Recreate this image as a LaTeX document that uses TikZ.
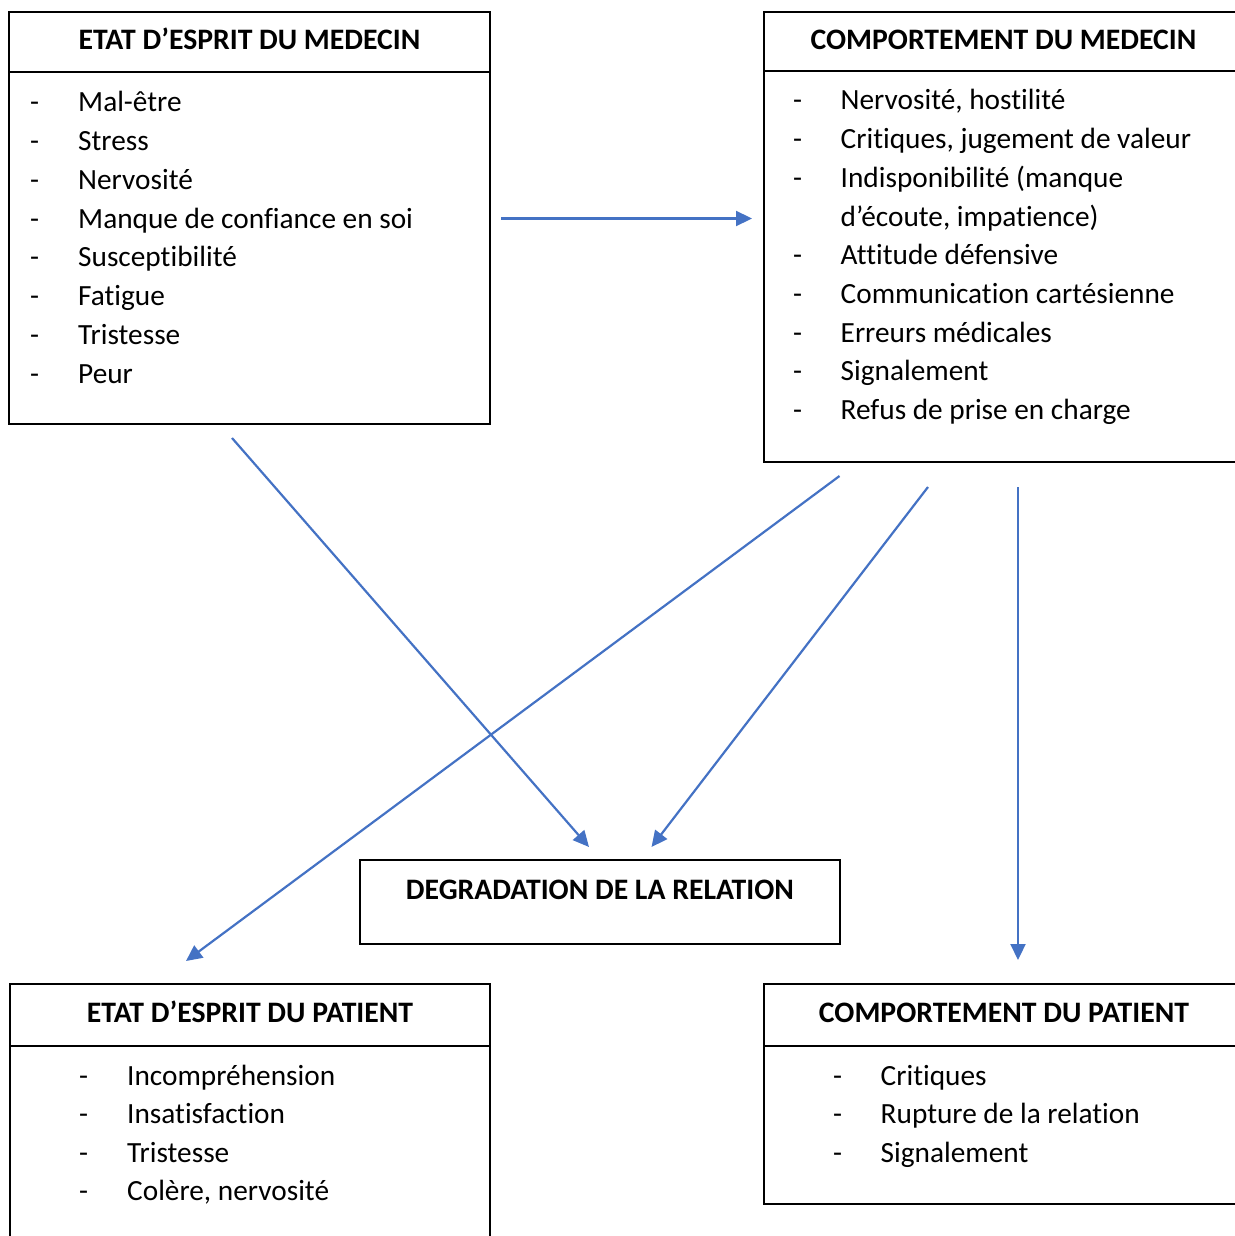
\documentclass[tikz,border=0pt]{standalone}
\usepackage{fontspec}
\setmainfont{Carlito}[Ligatures={NoCommon}]
\usetikzlibrary{arrows.meta}
\definecolor{arrowblue}{HTML}{4472C4}
\begin{document}
\begin{tikzpicture}[x=1pt,y=-1pt,
  box/.style={draw=black,line width=1.6pt,rectangle,inner sep=0pt,outer sep=0pt,anchor=north west},
  divider/.style={draw=black,line width=1.6pt},
  head/.style={font=\fontsize{29.7}{38.7}\selectfont\bfseries,inner sep=0pt,anchor=base},
  item/.style={font=\fontsize{29.3}{38.7}\selectfont,inner sep=0pt,anchor=base west},
  link/.style={draw=arrowblue,line width=2.2pt,-{Triangle[length=16pt,width=15pt]}}]
\useasboundingbox (0,0) rectangle (1234,1236);
% boxes
\node[box,minimum width=481pt,minimum height=412pt] (A) at (9,12) {};
\node[box,minimum width=480pt,minimum height=450pt] (B) at (764,12) {};
\node[box,minimum width=480pt,minimum height=84pt] (C) at (360,860) {};
\node[box,minimum width=480pt,minimum height=270pt] (D) at (10,984) {};
\node[box,minimum width=480pt,minimum height=220pt] (E) at (764,984) {};
% dividers
\coordinate (A1) at (9,72);   \coordinate (A2) at (490,72);
\coordinate (B1) at (764,71); \coordinate (B2) at (1244,71);
\coordinate (D1) at (10,1046); \coordinate (D2) at (490,1046);
\coordinate (E1) at (764,1046); \coordinate (E2) at (1244,1046);
\draw[divider] (A1) -- (A2);
\draw[divider] (B1) -- (B2);
\draw[divider] (D1) -- (D2);
\draw[divider] (E1) -- (E2);
% headers
\node[head] (hA) at (249.5,50) {ETAT D’ESPRIT DU MEDECIN};
\node[head] (hB) at (1003.5,50) {COMPORTEMENT DU MEDECIN};
\node[head] (hC) at (600,899) {DEGRADATION DE LA RELATION};
\node[head] (hD) at (250,1022) {ETAT D’ESPRIT DU PATIENT};
\node[head] (hE) at (1004,1022) {COMPORTEMENT DU PATIENT};
% box A items
\foreach \t [count=\i from 0] in {Mal-être,Stress,Nervosité,Manque de confiance en soi,Susceptibilité,Fatigue,Tristesse,Peur}{
  \node[item] (dA\i) at (30,111.5+38.85*\i) {-};
  \node[item] (tA\i) at (78,111.5+38.85*\i) {\t};
}
% box B items
\foreach \t/\d [count=\i from 0] in {{Nervosité, hostilité}/-,{Critiques, jugement de valeur}/-,{Indisponibilité (manque}/-,{d’écoute, impatience)}/,{Attitude défensive}/-,{Communication cartésienne}/-,{Erreurs médicales}/-,{Signalement}/-,{Refus de prise en charge}/-}{
  \node[item] (dB\i) at (793,110+38.7*\i) {\d};
  \node[item] (tB\i) at (840.5,110+38.7*\i) {\t};
}
% box D items
\foreach \t [count=\i from 0] in {Incompréhension,Insatisfaction,Tristesse,{Colère, nervosité}}{
  \node[item] (dD\i) at (79,1085+38.5*\i) {-};
  \node[item] (tD\i) at (127,1085+38.5*\i) {\t};
}
% box E items
\foreach \t [count=\i from 0] in {Critiques,Rupture de la relation,Signalement}{
  \node[item] (dE\i) at (833,1085+38.5*\i) {-};
  \node[item] (tE\i) at (880.5,1085+38.5*\i) {\t};
}
% arrow end points
\coordinate (s1) at (501,218.5);  \coordinate (e1) at (752,218.5);
\coordinate (s2) at (232,438);    \coordinate (e2) at (589,847);
\coordinate (s3) at (839.5,476);  \coordinate (e3) at (186,961);
\coordinate (s4) at (928,487);    \coordinate (e4) at (651.5,847);
\coordinate (s5) at (1018,487);   \coordinate (e5) at (1018,960);
\draw[link] (s1) -- (e1);
\draw[link] (s2) -- (e2);
\draw[link] (s3) -- (e3);
\draw[link] (s4) -- (e4);
\draw[link] (s5) -- (e5);
\end{tikzpicture}
\end{document}
